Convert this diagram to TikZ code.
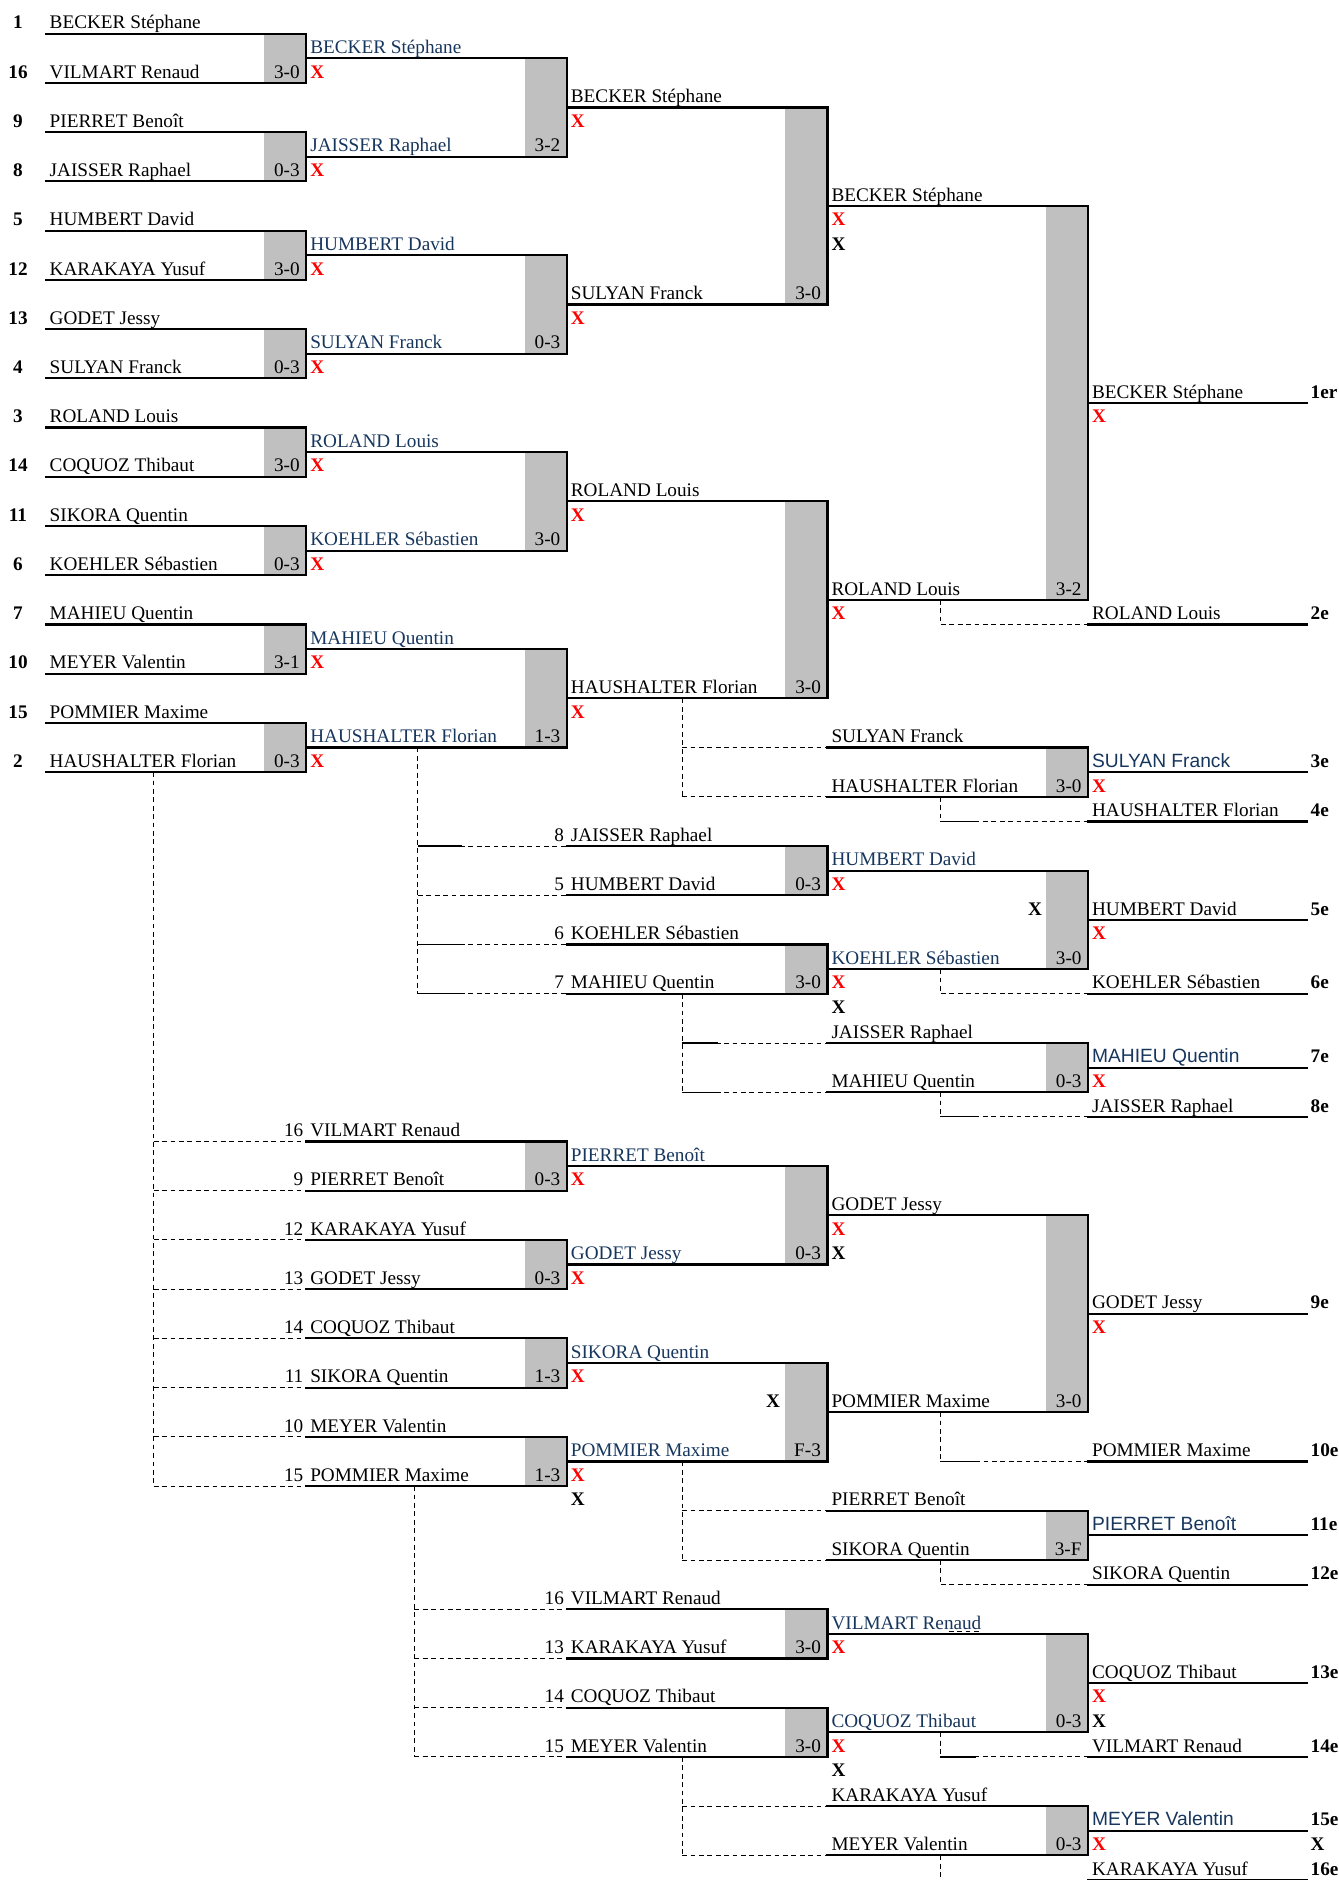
\documentclass[tikz,border=0pt]{standalone}
\usepackage{fontspec}
\setmainfont{Liberation Serif}
\newfontfamily\arialfont{Liberation Sans}
\definecolor{winblue}{RGB}{23,54,93}
\definecolor{boxgray}{RGB}{192,192,192}
\newcommand{\fs}{\fontsize{8pt}{10pt}\selectfont}
% one player line: style, left x, right x, row, name
\newcommand{\pl}[5]{\draw[ln] (#2,#4) -- (#3,#4); \node[#1] at (#2+3,#4) {#5};}

\begin{document}
\begin{tikzpicture}[x=0.5pt,y=-10.25pt,
	ln/.style={line width=0.9pt,line cap=rect},
	lnk/.style={line width=0.4pt,dash pattern=on 2pt off 1.5pt},
	stub/.style={line width=0.5pt},
	nm/.style={anchor=base west,inner sep=0pt,yshift=2pt,font=\fs},
	bl/.style={nm,text=winblue},
	bls/.style={nm,text=winblue,font=\arialfont\fs},
	sc/.style={nm,anchor=base east},
	sd/.style={nm,anchor=base east},
	seed/.style={nm,anchor=base,font=\fs\bfseries},
	xr/.style={nm,text=red,font=\fs\bfseries},
	xb/.style={nm,font=\fs\bfseries},
	rk/.style={nm,font=\fs\bfseries}]
	\useasboundingbox (0,-0.366) rectangle (1115,76);

	% score boxes
	\foreach \x/\a/\b/\s in {255/1/3/3-0,255/5/7/0-3,255/9/11/3-0,255/13/15/0-3,
		255/17/19/3-0,255/21/23/0-3,255/25/27/3-1,255/29/31/0-3,
		472/2/6/3-2,472/10/14/0-3,472/18/22/3-0,472/26/30/1-3,
		689/4/12/3-0,689/20/28/3-0,906/8/24/3-2,906/30/32/3-0,
		689/34/36/0-3,689/38/40/3-0,906/35/39/3-0,906/42/44/0-3,
		472/46/48/0-3,472/50/52/0-3,472/54/56/1-3,472/58/60/1-3,
		689/47/51/0-3,689/55/59/F-3,906/49/57/3-0,906/61/63/3-F,
		689/65/67/3-0,689/69/71/3-0,906/66/70/0-3,906/73/75/0-3}
	{
		\fill[boxgray] (\x-35,\a) rectangle (\x,\b);
		\draw[ln] (\x,\a) -- (\x,\b);
		\node[sc] at (\x-5,\b) {\s};
	}

	% dashed links to the placing rounds
	\draw[lnk] (128,31) -- (128,60);
	\foreach \k in {46,48,...,60} \draw[lnk] (128,\k) -- (255,\k);
	\draw[lnk] (348,30) -- (348,40);
	\foreach \k in {34,36,38,40} \draw[lnk] (348,\k) -- (472,\k);
	\foreach \k in {34,38,40} \draw[stub] (348,\k) -- ++(37,0);
	\draw[lnk] (345,60) -- (345,71);
	\foreach \k in {65,67,69,71} \draw[lnk] (345,\k) -- (472,\k);
	\foreach \a/\b in {28/30,40/42,59/61,71/73}
	{
		\draw[lnk] (568,\a) -- (568,\b+2);
		\draw[lnk] (568,\b) -- (689,\b);
		\draw[lnk] (568,\b+2) -- (689,\b+2);
	}
	\foreach \k in {42,44} \draw[stub] (568,\k) -- ++(30,0);
	\foreach \a/\b in {24/25,32/33,39/40,44/45,57/59,63/64,70/71,75/76}
		\draw[lnk] (783,\a) |- (906,\b);
	\foreach \k in {33,45,59,71} \draw[stub] (783,\k) -- ++(30,0);
	\draw[lnk] (790,65.9) -- (818,65.9);

	% first round
	\foreach \k/\s/\n in {1/1/BECKER Stéphane,3/16/VILMART Renaud,5/9/PIERRET Benoît,
		7/8/JAISSER Raphael,9/5/HUMBERT David,11/12/KARAKAYA Yusuf,13/13/GODET Jessy,
		15/4/SULYAN Franck,17/3/ROLAND Louis,19/14/COQUOZ Thibaut,21/11/SIKORA Quentin,
		23/6/KOEHLER Sébastien,25/7/MAHIEU Quentin,27/10/MEYER Valentin,
		29/15/POMMIER Maxime,31/2/HAUSHALTER Florian}
	{
		\pl{nm}{38}{255}{\k}{\n}
		\node[seed] at (15,\k) {\s};
	}

	% second column
	\foreach \k/\n in {2/BECKER Stéphane,6/JAISSER Raphael,10/HUMBERT David,
		14/SULYAN Franck,18/ROLAND Louis,22/KOEHLER Sébastien,26/MAHIEU Quentin,
		30/HAUSHALTER Florian}
		{\pl{bl}{255}{472}{\k}{\n}}
	\foreach \k/\s/\n in {46/16/VILMART Renaud,48/9/PIERRET Benoît,50/12/KARAKAYA Yusuf,
		52/13/GODET Jessy,54/14/COQUOZ Thibaut,56/11/SIKORA Quentin,
		58/10/MEYER Valentin,60/15/POMMIER Maxime}
	{
		\pl{nm}{255}{472}{\k}{\n}
		\node[sd] at (253,\k) {\s};
	}

	% third column
	\foreach \k/\st/\n in {4/nm/BECKER Stéphane,12/nm/SULYAN Franck,20/nm/ROLAND Louis,
		28/nm/HAUSHALTER Florian,47/bl/PIERRET Benoît,51/bl/GODET Jessy,
		55/bl/SIKORA Quentin,59/bl/POMMIER Maxime}
		{\pl{\st}{472}{689}{\k}{\n}}
	\foreach \k/\s/\n in {34/8/JAISSER Raphael,36/5/HUMBERT David,38/6/KOEHLER Sébastien,
		40/7/MAHIEU Quentin,65/16/VILMART Renaud,67/13/KARAKAYA Yusuf,
		69/14/COQUOZ Thibaut,71/15/MEYER Valentin}
	{
		\pl{nm}{472}{689}{\k}{\n}
		\node[sd] at (470,\k) {\s};
	}

	% fourth column
	\foreach \k/\st/\n in {8/nm/BECKER Stéphane,24/nm/ROLAND Louis,30/nm/SULYAN Franck,
		32/nm/HAUSHALTER Florian,35/bl/HUMBERT David,39/bl/KOEHLER Sébastien,
		42/nm/JAISSER Raphael,44/nm/MAHIEU Quentin,49/nm/GODET Jessy,
		57/nm/POMMIER Maxime,61/nm/PIERRET Benoît,63/nm/SIKORA Quentin,
		66/bl/VILMART Renaud,70/bl/COQUOZ Thibaut,73/nm/KARAKAYA Yusuf,
		75/nm/MEYER Valentin}
		{\pl{\st}{689}{906}{\k}{\n}}

	% final places
	\foreach \k/\st/\n/\r in {16/nm/BECKER Stéphane/1er,25/nm/ROLAND Louis/2e,
		31/bls/SULYAN Franck/3e,33/nm/HAUSHALTER Florian/4e,37/nm/HUMBERT David/5e,
		40/nm/KOEHLER Sébastien/6e,43/bls/MAHIEU Quentin/7e,45/nm/JAISSER Raphael/8e,
		53/nm/GODET Jessy/9e,59/nm/POMMIER Maxime/10e,62/bls/PIERRET Benoît/11e,
		64/nm/SIKORA Quentin/12e,68/nm/COQUOZ Thibaut/13e,71/nm/VILMART Renaud/14e,
		74/bls/MEYER Valentin/15e,76/nm/KARAKAYA Yusuf/16e}
	{
		\pl{\st}{906}{1088}{\k}{\n}
		\node[rk] at (1091,\k) {\r};
	}

	% marks
	\foreach \x/\k in {258/3,258/7,258/11,258/15,258/19,258/23,258/27,258/31,
		475/5,475/13,475/21,475/29,475/48,475/52,475/56,475/60,
		692/9,692/25,692/36,692/40,692/50,692/67,692/71,
		909/17,909/32,909/38,909/44,909/54,909/69,909/75}
		\node[xr] at (\x,\k) {X};
	\foreach \x/\k in {692/10,692/41,692/51,692/72,475/61,909/70,1091/75}
		\node[xb] at (\x,\k) {X};
	\node[xb,anchor=base east] at (868,37) {X};
	\node[xb,anchor=base east] at (650,57) {X};
\end{tikzpicture}
\end{document}
